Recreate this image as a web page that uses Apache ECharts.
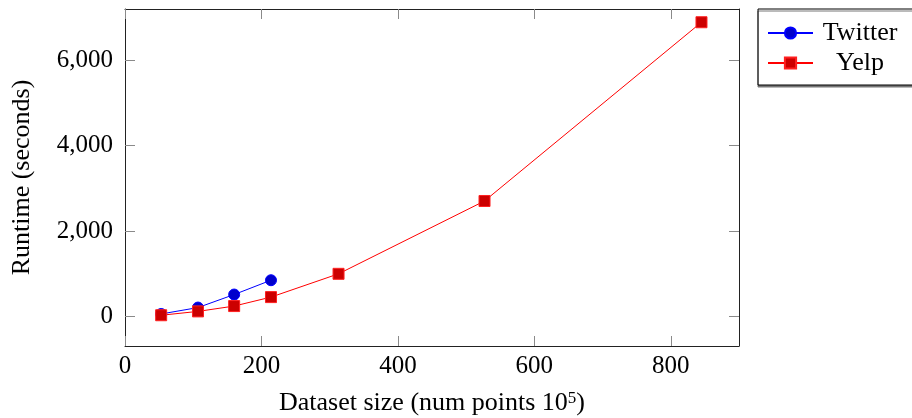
<!DOCTYPE html>
<html>
<head>
<meta charset="utf-8">
<script src="https://cdn.jsdelivr.net/npm/echarts@6/dist/echarts.min.js"></script>
<style>
html,body{margin:0;padding:0;background:#fff;}
#c{width:912px;height:418px;}
</style>
</head>
<body>
<div id="c"></div>
<script>
// Data
const twitterX = [53, 107, 160, 214];
const twitterY = [60, 210, 515, 850];
const yelpX = [53, 107, 160, 214, 313, 527, 845];
const yelpY = [30, 120, 245, 455, 1000, 2705, 6890];
const yTickValues = [0, 2000, 4000, 6000];
const xTickValues = [0, 200, 400, 600, 800];
const seriesNames = ['Twitter', 'Yelp'];

const FONT = 'Liberation Serif';
const TICK_FS = 25;
const NAME_FS = 26;
const pairs = (xs, ys) => xs.map((x, i) => [x, ys[i]]);
const fmt = v => v.toLocaleString('en-US');

const chart = echarts.init(document.getElementById('c'), null, {renderer: 'canvas'});

const tickStyle = {show: true, inside: true, length: 10, lineStyle: {color: '#8a8a8a', width: 1}};
const lineAxis = {show: true, onZero: false, lineStyle: {color: '#222', width: 1}};

chart.setOption({
  animation: false,
  backgroundColor: '#fff',
  textStyle: {fontFamily: FONT, color: '#000'},
  grid: {left: 125, top: 9, right: 173, bottom: 72, containLabel: false, outerBoundsMode: 'none'},
  legend: {
    orient: 'vertical',
    left: 758, top: 9,
    padding: [10, 14, 8, 9],
    itemGap: 2,
    itemWidth: 45, itemHeight: 14,
    borderColor: '#000', borderWidth: 1,
    backgroundColor: '#fff',
    shadowColor: '#777', shadowOffsetX: 0, shadowOffsetY: 2, shadowBlur: 0,
    data: seriesNames,
    formatter: n => '{c|' + n + '}',
    textStyle: {fontFamily: FONT, fontSize: NAME_FS, color: '#000', lineHeight: 28,
      rich: {c: {width: 84, align: 'center', fontFamily: FONT, fontSize: NAME_FS, lineHeight: 28}}}
  },
  xAxis: [{
    type: 'value', min: 0, max: 900, interval: 200,
    position: 'bottom',
    name: 'Dataset size (num points 10{s|5})',
    nameLocation: 'middle', nameGap: 44,
    nameTextStyle: {fontFamily: FONT, fontSize: NAME_FS, color: '#000',
      rich: {s: {fontSize: 17, verticalAlign: 'top', fontFamily: FONT, padding: [0, 0, 8, 0]}}},
    axisLine: lineAxis,
    axisTick: Object.assign({}, tickStyle, {customValues: xTickValues}),
    axisLabel: {fontFamily: FONT, fontSize: TICK_FS, color: '#000', margin: 8, customValues: xTickValues},
    splitLine: {show: false}
  }, {
    type: 'value', min: 0, max: 900, interval: 200,
    position: 'top',
    axisLine: lineAxis,
    axisTick: Object.assign({}, tickStyle, {customValues: xTickValues}),
    axisLabel: {show: false},
    splitLine: {show: false}
  }],
  yAxis: [{
    type: 'value', min: -690, max: 7200,
    position: 'left',
    name: 'Runtime (seconds)',
    nameLocation: 'middle', nameGap: 90, nameRotate: 90,
    nameTextStyle: {fontFamily: FONT, fontSize: NAME_FS, color: '#000'},
    axisLine: lineAxis,
    axisTick: Object.assign({}, tickStyle, {customValues: yTickValues}),
    axisLabel: {fontFamily: FONT, fontSize: TICK_FS, color: '#000', margin: 12,
      customValues: yTickValues, formatter: v => fmt(v)},
    splitLine: {show: false}
  }, {
    type: 'value', min: -690, max: 7200,
    position: 'right',
    axisLine: lineAxis,
    axisTick: Object.assign({}, tickStyle, {customValues: yTickValues}),
    axisLabel: {show: false, customValues: yTickValues},
    splitLine: {show: false}
  }],
  series: [{
    name: seriesNames[0], type: 'line',
    xAxisIndex: 0, yAxisIndex: 0,
    data: pairs(twitterX, twitterY),
    symbol: 'circle', symbolSize: 11,
    lineStyle: {color: '#0000ff', width: 1},
    itemStyle: {color: '#0000cc', borderColor: '#0000ff', borderWidth: 1},
    emphasis: {disabled: true}
  }, {
    name: seriesNames[1], type: 'line',
    xAxisIndex: 0, yAxisIndex: 0,
    data: pairs(yelpX, yelpY),
    symbol: 'rect', symbolSize: 11,
    lineStyle: {color: '#ff0000', width: 1},
    itemStyle: {color: '#cc0000', borderColor: '#ff2020', borderWidth: 1},
    emphasis: {disabled: true}
  }]
});
</script>
</body>
</html>
